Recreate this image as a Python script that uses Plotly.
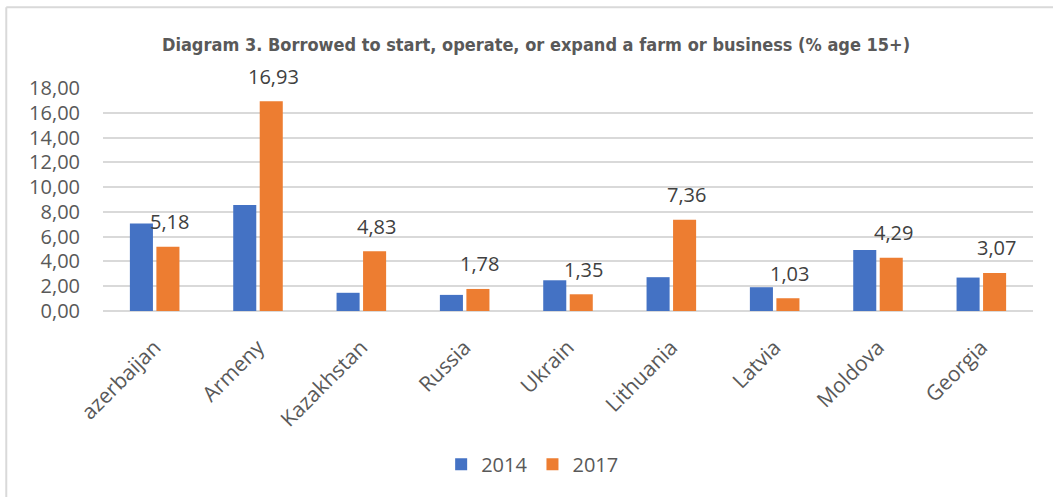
import plotly.graph_objects as go

countries = ["azerbaijan", "Armeny", "Kazakhstan", "Russia", "Ukrain",
             "Lithuania", "Latvia", "Moldova", "Georgia"]
values_2014 = [7.06, 8.56, 1.47, 1.30, 2.48, 2.73, 1.92, 4.93, 2.70]
values_2017 = [5.18, 16.93, 4.83, 1.78, 1.35, 7.36, 1.03, 4.29, 3.07]
y_ticks = [0, 2, 4, 6, 8, 10, 12, 14, 16, 18]

BLUE = "#4472C4"
ORANGE = "#ED7D31"
TEXT = "#595959"
FONT = "Open Sans"


def comma(v):
    return f"{v:.2f}".replace(".", ",")


fig = go.Figure()
fig.add_trace(go.Bar(name="2014", x=countries, y=values_2014,
                     marker=dict(color=BLUE, line=dict(width=0))))
fig.add_trace(go.Bar(name="2017", x=countries, y=values_2017,
                     marker=dict(color=ORANGE, line=dict(width=0))))

# value labels over the 2017 bars
for c, v in zip(countries, values_2017):
    fig.add_annotation(x=c, y=v, text=comma(v), showarrow=False,
                       xshift=15, yshift=25,
                       font=dict(family=FONT, size=20, color="#404040"))

# chart frame (top and left edges)
fig.add_shape(type="line", xref="paper", yref="paper",
              x0=-0.104, x1=1.03, y0=1.362, y1=1.362,
              line=dict(color="#d9d9d9", width=2))
fig.add_shape(type="line", xref="paper", yref="paper",
              x0=-0.104, x1=-0.104, y0=1.362, y1=-0.9,
              line=dict(color="#d9d9d9", width=2))

fig.update_layout(
    width=1053, height=497,
    margin=dict(l=103, r=20, t=88, b=185.5),
    paper_bgcolor="white", plot_bgcolor="white",
    barmode="group", bargap=0.487, bargroupgap=0.13,
    title=dict(text="<b>Diagram 3. Borrowed to start, operate, or expand a farm or business (% age 15+)</b>",
               x=536 / 1053, xanchor="center", y=1 - 45 / 497, yanchor="middle",
               font=dict(family="DejaVu Sans Condensed", size=18, color=TEXT)),
    font=dict(family=FONT, size=20, color=TEXT),
    xaxis=dict(tickangle=-45, showgrid=False, showline=False, ticks="",
               ticklabelstandoff=19,
               tickfont=dict(family=FONT, size=21, color=TEXT)),
    yaxis=dict(range=[0, 18], tickvals=y_ticks,
               ticktext=[comma(t) for t in y_ticks],
               showgrid=True, gridcolor="#d9d9d9", gridwidth=1.5,
               zeroline=True, zerolinecolor="#d9d9d9", zerolinewidth=1.5,
               showline=False, ticks="", ticklabelstandoff=22,
               tickfont=dict(family=FONT, size=20, color=TEXT)),
    legend=dict(orientation="h", x=0.462, xanchor="center",
                y=-0.687, yanchor="middle",
                font=dict(family=FONT, size=20, color=TEXT),
                itemwidth=30, traceorder="normal"),
    showlegend=True,
)

fig.write_html("out.html")
